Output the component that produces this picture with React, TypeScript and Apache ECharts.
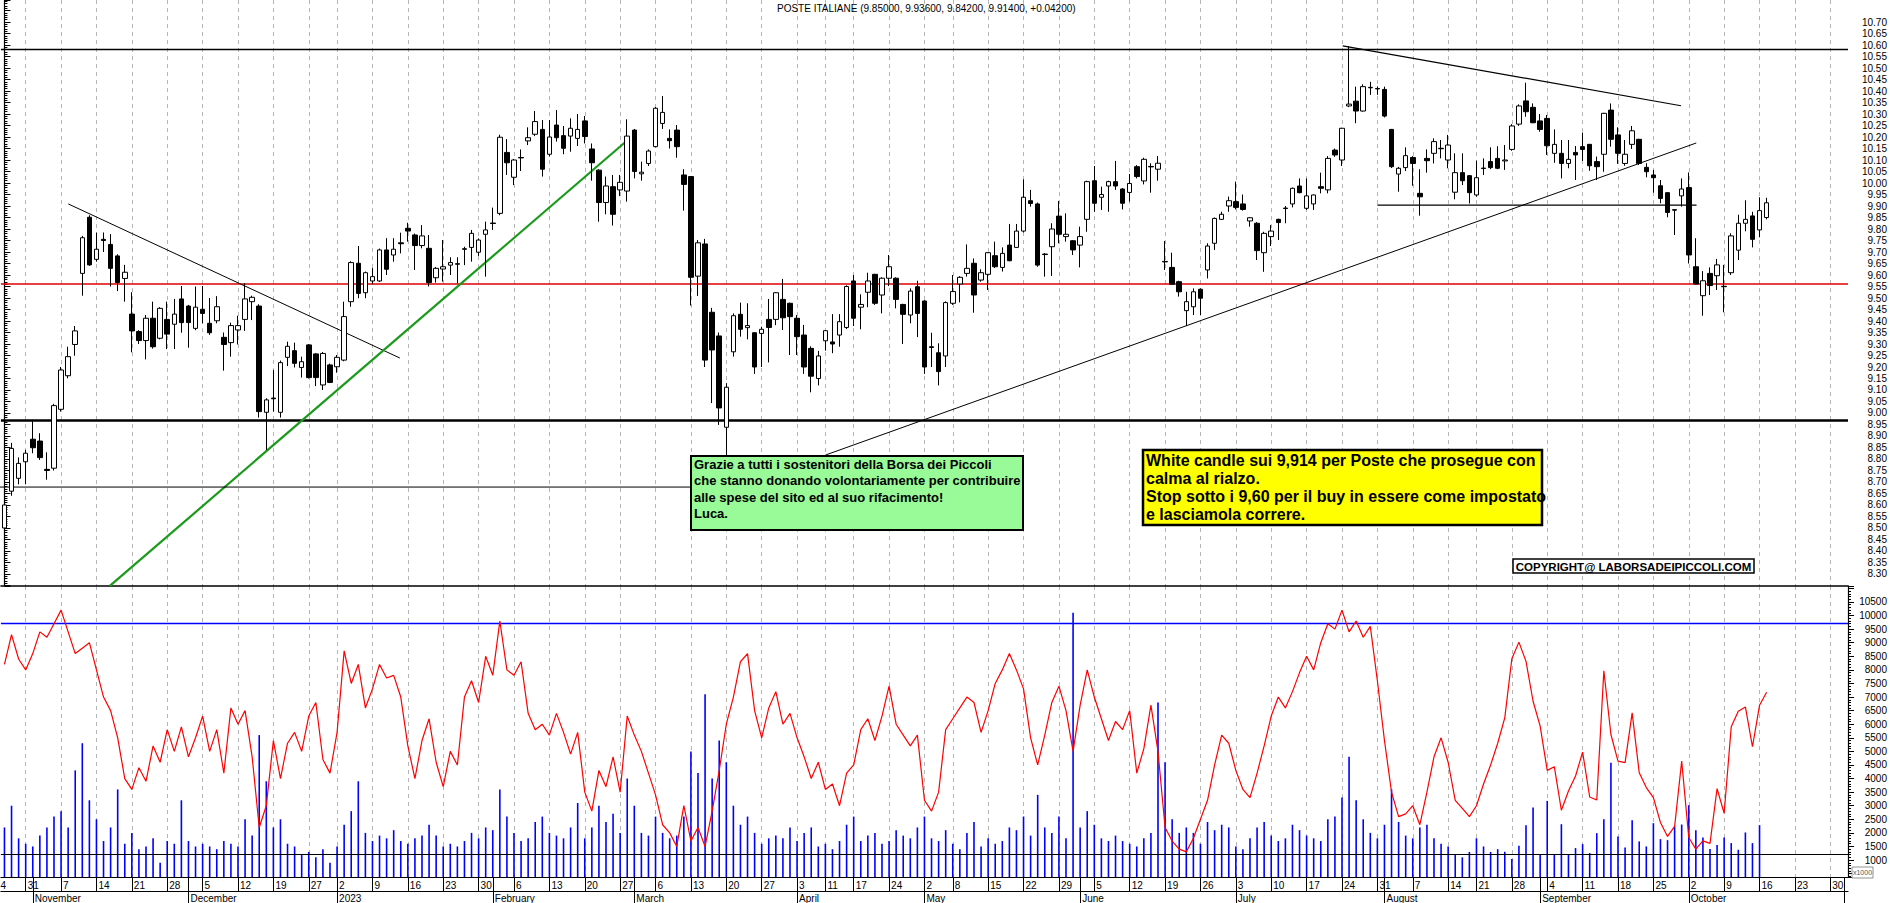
import React, { useEffect, useRef } from 'react';
import * as echarts from 'echarts';

// ---------- categories (trading days) ----------
const HOLIDAYS = ['2022-12-26', '2023-04-07', '2023-04-10', '2023-05-01', '2023-08-15'];
const MONTH_NAMES = ['2023', 'February', 'March', 'April', 'May', 'June', 'July', 'August', 'September', 'October', 'November', 'December'];

function buildTradingDays(): string[] {
  const out: string[] = [];
  const d = new Date(Date.UTC(2022, 9, 26));
  const end = Date.UTC(2023, 10, 1);
  while (d.getTime() <= end) {
    const wd = d.getUTCDay();
    const s = d.toISOString().slice(0, 10);
    if (wd !== 0 && wd !== 6 && HOLIDAYS.indexOf(s) < 0) out.push(s);
    d.setUTCDate(d.getUTCDate() + 1);
  }
  return out;
}
const dates = buildTradingDays();

// ---------- OHLC (from 2022-10-26) ----------
const opens = [
  8.50, 8.66, 8.716, 8.788, 8.886, 8.878, 8.755, 8.76, 9.016, 9.162,
  9.298, 9.607, 9.851, 9.668, 9.755, 9.733, 9.683, 9.585, 9.43, 9.354,
  9.315, 9.412, 9.325, 9.407, 9.386, 9.496, 9.465, 9.368, 9.451, 9.39,
  9.401, 9.329, 9.306, 9.361, 9.407, 9.484, 9.465, 9.003, 9.065, 9.003,
  9.242, 9.271, 9.198, 9.296, 9.257, 9.122, 9.209, 9.201, 9.23, 9.484,
  9.651, 9.523, 9.574, 9.574, 9.709, 9.687, 9.74, 9.803, 9.774, 9.728,
  9.716, 9.588, 9.626, 9.643, 9.649, 9.714, 9.72, 9.699, 9.777, 9.826,
  9.868, 10.133, 10.025, 10.111, 10.183, 10.212, 10.233, 10.125, 10.252, 10.206,
  10.204, 10.194, 10.27, 10.148, 10.056, 9.915, 9.984, 9.97, 9.965, 10.23,
  10.04, 10.085, 10.158, 10.259, 10.194, 10.23, 10.035, 10.028, 9.595, 9.735,
  9.438, 9.335, 8.938, 9.266, 9.429, 9.371, 9.349, 9.346, 9.407, 9.407,
  9.494, 9.477, 9.412, 9.339, 9.281, 9.15, 9.314, 9.309, 9.339, 9.372,
  9.574, 9.46, 9.525, 9.603, 9.513, 9.586, 9.586, 9.472, 9.426, 9.549,
  9.487, 9.288, 9.262, 9.248, 9.477, 9.561, 9.607, 9.651, 9.578, 9.603,
  9.684, 9.633, 9.73, 9.72, 9.791, 9.923, 9.909, 9.691, 9.723, 9.856,
  9.767, 9.749, 9.73, 9.842, 10.01, 9.938, 9.987, 10.006, 9.974, 9.959,
  10.071, 10.009, 10.072, 10.06, 9.659, 9.633, 9.571, 9.445, 9.462, 9.538,
  9.622, 9.738, 9.842, 9.90, 9.919, 9.909, 9.835, 9.825, 9.697, 9.767,
  9.842, 9.891, 9.909, 9.987, 9.89, 9.909, 9.984, 9.97, 10.143, 10.10,
  10.335, 10.356, 10.313, 10.416, 10.411, 10.407, 10.233, 10.039, 10.067, 10.111,
  9.955, 10.107, 10.129, 10.151, 10.10, 9.96, 10.045, 10.032, 9.948, 10.065,
  10.093, 10.107, 10.096, 10.146, 10.256, 10.357, 10.329, 10.27, 10.281, 10.129,
  10.129, 10.085, 10.133, 10.158, 10.168, 10.093, 10.125, 10.317, 10.209, 10.085,
  10.168, 10.19, 10.068, 10.035, 9.988, 9.958, 9.884, 9.944, 9.98, 9.636,
  9.51, 9.607, 9.597, 9.551, 9.61, 9.708, 9.825, 9.857, 9.796, 9.85,
];
const closes = [
  8.60, 8.846, 8.781, 8.825, 8.849, 8.806, 8.75, 9.032, 9.187, 9.245,
  9.357, 9.762, 9.644, 9.712, 9.75, 9.629, 9.567, 9.612, 9.357, 9.315,
  9.412, 9.288, 9.455, 9.343, 9.43, 9.393, 9.393, 9.46, 9.433, 9.349,
  9.462, 9.298, 9.38, 9.38, 9.496, 9.503, 9.006, 9.057, 9.062, 9.219,
  9.29, 9.216, 9.223, 9.154, 9.154, 9.259, 9.133, 9.242, 9.419, 9.654,
  9.52, 9.61, 9.593, 9.709, 9.625, 9.712, 9.736, 9.791, 9.728, 9.77,
  9.567, 9.629, 9.636, 9.654, 9.647, 9.712, 9.781, 9.752, 9.796, 9.824,
  10.199, 10.088, 10.10, 10.109, 10.197, 10.267, 10.06, 10.20, 10.197, 10.151,
  10.238, 10.233, 10.202, 10.088, 9.915, 9.987, 9.864, 10.003, 10.204, 10.05,
  10.047, 10.139, 10.325, 10.307, 10.184, 10.158, 9.994, 9.59, 9.74, 9.23,
  9.274, 9.022, 9.112, 9.423, 9.364, 9.38, 9.20, 9.364, 9.372, 9.523,
  9.414, 9.419, 9.332, 9.20, 9.16, 9.248, 9.358, 9.30, 9.397, 9.55,
  9.412, 9.472, 9.574, 9.477, 9.586, 9.636, 9.494, 9.429, 9.53, 9.433,
  9.20, 9.285, 9.18, 9.48, 9.528, 9.59, 9.629, 9.513, 9.61, 9.697,
  9.636, 9.694, 9.662, 9.791, 9.938, 9.911, 9.643, 9.689, 9.80, 9.777,
  9.777, 9.709, 9.767, 10.006, 9.912, 9.95, 10.006, 9.987, 9.912, 9.998,
  10.028, 10.103, 10.07, 10.086, 9.657, 9.56, 9.527, 9.484, 9.527, 9.499,
  9.726, 9.846, 9.864, 9.923, 9.894, 9.885, 9.849, 9.706, 9.781, 9.791,
  9.828, 9.889, 9.977, 9.958, 9.944, 9.948, 9.977, 10.107, 10.122, 10.238,
  10.343, 10.313, 10.419, 10.414, 10.409, 10.291, 10.071, 10.064, 10.119, 10.085,
  9.94, 10.097, 10.18, 10.149, 10.165, 10.045, 10.01, 9.958, 10.023, 10.063,
  10.067, 10.064, 10.10, 10.248, 10.335, 10.31, 10.262, 10.233, 10.162, 10.168,
  10.085, 10.103, 10.122, 10.146, 10.075, 10.071, 10.303, 10.19, 10.129, 10.125,
  10.227, 10.085, 10.049, 10.023, 9.933, 9.872, 9.882, 9.974, 9.687, 9.561,
  9.575, 9.554, 9.644, 9.549, 9.77, 9.825, 9.842, 9.755, 9.88, 9.914,
];
const lows = [
  8.46, 8.64, 8.69, 8.69, 8.825, 8.796, 8.71, 8.75, 9.006, 9.151,
  9.249, 9.51, 9.64, 9.658, 9.70, 9.55, 9.53, 9.484, 9.264, 9.30,
  9.233, 9.28, 9.32, 9.278, 9.278, 9.349, 9.284, 9.36, 9.39, 9.34,
  9.39, 9.184, 9.245, 9.298, 9.357, 9.404, 8.98, 8.839, 9.006, 8.98,
  9.204, 9.198, 9.154, 9.15, 9.117, 9.10, 9.13, 9.175, 9.225, 9.462,
  9.499, 9.499, 9.56, 9.57, 9.60, 9.658, 9.694, 9.745, 9.622, 9.716,
  9.55, 9.567, 9.571, 9.60, 9.564, 9.643, 9.658, 9.683, 9.593, 9.796,
  9.86, 10.035, 9.991, 10.052, 10.165, 10.204, 10.028, 10.115, 10.18, 10.125,
  10.136, 10.161, 10.172, 10.01, 9.832, 9.864, 9.815, 9.943, 9.919, 10.02,
  10.01, 10.074, 10.155, 10.235, 10.15, 10.11, 9.88, 9.467, 9.509, 9.20,
  9.043, 8.948, 8.813, 9.245, 9.332, 9.32, 9.17, 9.20, 9.22, 9.382,
  9.361, 9.252, 9.252, 9.17, 9.09, 9.12, 9.271, 9.26, 9.288, 9.365,
  9.378, 9.364, 9.46, 9.47, 9.433, 9.552, 9.455, 9.30, 9.39, 9.33,
  9.17, 9.20, 9.12, 9.20, 9.47, 9.481, 9.593, 9.436, 9.571, 9.535,
  9.63, 9.615, 9.66, 9.719, 9.785, 9.897, 9.636, 9.593, 9.596, 9.738,
  9.745, 9.687, 9.633, 9.788, 9.875, 9.883, 9.875, 9.97, 9.885, 9.919,
  10.02, 9.994, 9.958, 10.01, 9.622, 9.557, 9.506, 9.378, 9.426, 9.426,
  9.585, 9.709, 9.84, 9.875, 9.885, 9.88, 9.81, 9.665, 9.614, 9.726,
  9.752, 9.825, 9.894, 9.955, 9.883, 9.883, 9.955, 9.955, 10.114, 10.074,
  10.33, 10.26, 10.31, 10.383, 10.383, 10.285, 10.065, 9.962, 10.052, 9.988,
  9.858, 10.045, 10.085, 10.107, 10.064, 9.929, 9.991, 9.911, 9.94, 10.035,
  10.06, 10.06, 10.057, 10.14, 10.248, 10.288, 10.26, 10.223, 10.122, 10.088,
  10.02, 10.064, 10.013, 10.096, 10.053, 10.013, 10.049, 10.158, 10.083, 10.075,
  10.148, 10.078, 10.025, 9.958, 9.912, 9.851, 9.774, 9.897, 9.65, 9.56,
  9.423, 9.513, 9.535, 9.438, 9.60, 9.665, 9.79, 9.72, 9.764, 9.842,
];
const highs = [
  8.62, 8.87, 8.807, 8.84, 8.97, 8.912, 8.829, 9.04, 9.20, 9.288,
  9.378, 9.77, 9.86, 9.784, 9.785, 9.778, 9.69, 9.644, 9.525, 9.36,
  9.426, 9.484, 9.46, 9.484, 9.496, 9.552, 9.47, 9.55, 9.552, 9.50,
  9.508, 9.35, 9.393, 9.423, 9.564, 9.51, 9.473, 9.064, 9.187, 9.228,
  9.31, 9.306, 9.245, 9.30, 9.26, 9.265, 9.215, 9.252, 9.484, 9.66,
  9.726, 9.615, 9.63, 9.715, 9.76, 9.76, 9.784, 9.827, 9.78, 9.817,
  9.774, 9.635, 9.752, 9.677, 9.677, 9.723, 9.796, 9.759, 9.832, 9.893,
  10.21, 10.191, 10.105, 10.146, 10.242, 10.313, 10.274, 10.274, 10.317, 10.248,
  10.281, 10.30, 10.291, 10.172, 10.06, 10.028, 10.035, 10.035, 10.277, 10.235,
  10.093, 10.146, 10.33, 10.378, 10.233, 10.252, 10.06, 10.03, 9.752, 9.757,
  9.457, 9.35, 9.13, 9.433, 9.48, 9.477, 9.35, 9.375, 9.496, 9.525,
  9.583, 9.48, 9.426, 9.383, 9.29, 9.27, 9.36, 9.43, 9.43, 9.555,
  9.60, 9.516, 9.61, 9.605, 9.59, 9.687, 9.59, 9.475, 9.542, 9.575,
  9.49, 9.349, 9.303, 9.485, 9.60, 9.595, 9.733, 9.672, 9.625, 9.70,
  9.745, 9.72, 9.822, 9.822, 10.016, 9.97, 9.915, 9.695, 9.825, 9.922,
  9.868, 9.752, 9.81, 10.01, 10.074, 9.984, 10.01, 10.096, 9.978, 10.039,
  10.078, 10.11, 10.086, 10.117, 9.748, 9.697, 9.575, 9.527, 9.542, 9.542,
  9.738, 9.85, 9.875, 9.941, 10.006, 9.95, 9.852, 9.83, 9.788, 9.817,
  9.845, 9.90, 9.98, 10.02, 10.02, 9.95, 10.045, 10.117, 10.15, 10.24,
  10.595, 10.419, 10.429, 10.44, 10.42, 10.419, 10.235, 10.07, 10.155, 10.117,
  10.06, 10.146, 10.194, 10.187, 10.209, 10.129, 10.129, 10.035, 10.097, 10.107,
  10.155, 10.16, 10.165, 10.256, 10.342, 10.436, 10.346, 10.30, 10.296, 10.233,
  10.187, 10.187, 10.161, 10.219, 10.17, 10.115, 10.305, 10.346, 10.242, 10.187,
  10.248, 10.192, 10.086, 10.057, 10.013, 9.96, 9.886, 10.02, 10.046, 9.76,
  9.617, 9.633, 9.67, 9.644, 9.781, 9.862, 9.925, 9.875, 9.938, 9.936,
];

// ---------- volume (x1000) and red oscillator line ----------
const volumes = [
  2200, 3000, 1800, 1600, 1500, 1900, 2200, 2600, 2800, 2200,
  4300, 5300, 3200, 2500, 1700, 2200, 3600, 1600, 2000, 1400,
  1500, 1800, 900, 1700, 1600, 3200, 1700, 1500, 1600, 1500,
  1400, 1700, 1600, 1500, 2500, 1900, 5600, 3900, 2200, 2500,
  1600, 1500, 1200, 1300, 1100, 1400, 900, 1500, 2300, 2800,
  3900, 2000, 1700, 1900, 1800, 2100, 1700, 1600, 1800, 1900,
  2300, 1900, 1500, 1600, 1500, 1700, 2000, 1800, 2200, 2100,
  3600, 2600, 2000, 1700, 1800, 2400, 2600, 2000, 1900, 1800,
  2200, 3100, 1800, 2200, 3000, 2400, 2700, 2000, 4000, 3000,
  2000, 1900, 2600, 2000, 1800, 1900, 2600, 5000, 4200, 7100,
  4000, 5400, 4600, 3000, 2300, 2600, 2000, 1600, 1800, 1900,
  1800, 2200, 1700, 2000, 2200, 1500, 1600, 1400, 1700, 2300,
  2600, 1700, 1900, 2000, 1600, 1700, 2100, 1900, 1800, 2200,
  2600, 1800, 1700, 2100, 1600, 1400, 2000, 2400, 1500, 1800,
  1600, 1700, 2200, 2100, 2600, 1900, 3400, 2200, 2000, 2600,
  1800, 10100, 2200, 2800, 2300, 1800, 1700, 1900, 1700, 1600,
  1500, 1800, 2000, 6800, 4600, 2500, 2000, 2200, 2000, 1600,
  2400, 2100, 2300, 2200, 1500, 1400, 1800, 2200, 2400, 1900,
  1700, 1800, 2300, 2100, 1900, 1800, 1700, 2500, 2600, 3300,
  4800, 3200, 2500, 2000, 1800, 2300, 3600, 2400, 1900, 1800,
  2200, 2300, 1800, 1600, 1500, 1200, 1100, 1300, 1800, 1500,
  1300, 1400, 1305, 1037, 1526, 2284, 2933, 1220, 3176, 1220,
  2320, 1220, 1440, 1587, 1257, 1990, 2504, 4584, 1869, 1465,
  2467, 1685, 1501, 2357, 1770, 1733, 2223, 2308, 3018, 2100,
  1832, 1403, 1550, 1832, 1624, 1380, 2016, 1624, 2284, null,
];
const oscillator = [
  8200, 9300, 8400, 8000, 8600, 9400, 9200, 9700, 10200, 9400,
  8600, 8800, 9000, 8000, 7000, 6500, 5500, 4000, 3600, 4400,
  3900, 5200, 4600, 5800, 5000, 5900, 4800, 5500, 6300, 5000,
  5800, 4200, 6600, 6000, 6500, 4800, 2200, 3000, 5400, 4000,
  5300, 5700, 5000, 6300, 6800, 4700, 4200, 5700, 8700, 7500,
  8200, 6600, 7300, 8200, 7700, 7800, 7000, 5200, 4000, 5400,
  6200, 4600, 3700, 5000, 4500, 7000, 7600, 6800, 8500, 7800,
  9800, 8000, 7800, 8300, 6400, 5800, 6000, 5600, 6400, 5700,
  4900, 5700, 3500, 2800, 4300, 3700, 4800, 3500, 6300, 5600,
  5000, 4200, 3400, 2300, 2000, 1500, 3000, 1700, 2200, 1500,
  2800, 4300, 6000, 7000, 8300, 8600, 6500, 5500, 6600, 7200,
  6000, 6400, 5500, 4800, 4000, 4600, 3600, 3800, 3000, 4200,
  4500, 5800, 6200, 5400, 6300, 7400, 6000, 5600, 5200, 5600,
  3200, 2800, 3500, 5800, 6200, 6600, 7000, 6800, 5700, 6500,
  7500, 8000, 8600, 8000, 7300, 5500, 4500, 5600, 6800, 7400,
  6500, 5000, 6700, 8000, 7000, 6200, 5400, 6100, 5800, 6500,
  4200, 5100, 6700, 5000, 2200, 1700, 1400, 1300, 1800, 2500,
  3200, 4500, 5600, 5300, 4300, 3600, 3300, 4200, 5200, 6300,
  7000, 6600, 7200, 7900, 8500, 8000, 9000, 9700, 9500, 10200,
  9400, 9800, 9200, 9600, 7600, 5400, 3500, 2600, 2700, 3000,
  2300, 3500, 4800, 5500, 4600, 3200, 2900, 2600, 3000, 3800,
  4500, 5300, 6235, 8410, 9022, 8312, 6845, 5927, 4302, 4437,
  2834, 3542, 4093, 4973, 3322, 3212, 7970, 5622, 4643, 4584,
  6418, 4213, 3667, 3300, 2383, 1870, 2236, 4643, 1832, 1403,
  1708, 1612, 3630, 2724, 5904, 6477, 6638, 5171, 6697, 7174,
];

// horizontal levels
const PRICE_LEVELS = [10.584, 9.564, 8.974];
const VOLUME_LEVELS = [9720, 1220];

// trend lines in data space: [dayIndex, price]
const TREND_LINES = [
  { a: [9.02, 9.909], b: [55.87, 9.239] },
  { a: [14.89, 8.248], b: [88.07, 10.187] },
  { a: [116, 8.817], b: [239.06, 10.174] },
  { a: [189.1, 10.596], b: [236.9, 10.336] },
  { a: [194.0, 9.904], b: [239.1, 9.904] },
  { a: [-0.63, 8.678], b: [98, 8.678] },
];
const TREND_STYLES = [
  { color: '#000', width: 1 },
  { color: '#1a9a1a', width: 2.2 },
  { color: '#000', width: 1 },
  { color: '#000', width: 1.2 },
  { color: '#000', width: 1.3 },
  { color: '#000', width: 1 },
];

const TITLE = 'POSTE ITALIANE (9.85000, 9.93600, 9.84200, 9.91400, +0.04200)';
const GREEN_NOTE = [
  'Grazie a tutti i sostenitori della Borsa dei Piccoli',
  'che stanno donando volontariamente per contribuire',
  'alle spese del sito ed al suo rifacimento!',
  'Luca.',
];
const YELLOW_NOTE = [
  'White candle sui 9,914 per Poste che prosegue con',
  'calma al rialzo.',
  'Stop sotto i 9,60 per il buy in essere come impostato',
  'e lasciamola correre.',
];
const COPYRIGHT = 'COPYRIGHT@ LABORSADEIPICCOLI.COM';
const FIRST_WEEK_LABEL = '4';

// ---------- helpers ----------
const WEEK0 = Date.UTC(2022, 9, 24);
const weekIdx = (s: string) => Math.floor((Date.parse(s + 'T00:00:00Z') - WEEK0) / (7 * 86400000));
const isWeekStart = dates.map((s, i) => i > 0 && weekIdx(s) !== weekIdx(dates[i - 1]));
const isMonthStart = dates.map((s, i) => i > 0 && s.slice(5, 7) !== dates[i - 1].slice(5, 7));

const FONT = '"Liberation Sans", Arial, sans-serif';
const BAND = 7.08;
const LEFT = 0.92;
const W = dates.length * BAND;

function buildOption() {
  const candles = opens.map((o, i) => [o, closes[i], lows[i], highs[i]]);
  const gridLine = {
    show: true,
    alignWithLabel: true,
    interval: (i: number) => isWeekStart[i],
    lineStyle: { color: '#b5b5b5', type: [4, 4], width: 1 },
  };
  const trendSeries = TREND_LINES.map((t, i) => ({
    type: 'line',
    xAxisIndex: 2,
    yAxisIndex: 0,
    data: [t.a, t.b],
    symbol: 'none',
    silent: true,
    z: 5,
    lineStyle: { color: TREND_STYLES[i].color, width: TREND_STYLES[i].width },
  }));

  const textEl = (text: string, x: number, y: number, font: string, align = 'left') => ({
    type: 'text',
    x,
    y,
    z: 101,
    silent: true,
    style: { text, font, fill: '#000', align, verticalAlign: 'middle' },
  });

  return {
    animation: false,
    backgroundColor: '#ffffff',
    grid: [
      { left: LEFT, top: 0, width: W, height: 586 },
      { left: LEFT, top: 586, width: W, height: 292 },
    ],
    xAxis: [
      {
        type: 'category', gridIndex: 0, data: dates,
        axisLine: { show: true, lineStyle: { color: '#000', width: 1.5 } },
        axisTick: { show: false }, axisLabel: { show: false },
        splitLine: gridLine,
      },
      {
        type: 'category', gridIndex: 1, data: dates,
        axisLine: { show: true, lineStyle: { color: '#000', width: 1.2 } },
        axisTick: {
          show: true, alignWithLabel: true, length: 14,
          interval: (i: number) => isWeekStart[i] || isMonthStart[i],
          lineStyle: { color: '#000', width: 1 },
        },
        axisLabel: {
          interval: (i: number) => isWeekStart[i],
          formatter: (v: string) => String(parseInt(v.slice(8), 10)),
          align: 'left', padding: [0, 0, 0, 2], margin: 3,
          fontSize: 10, fontFamily: FONT, color: '#000',
        },
        splitLine: gridLine,
      },
      { type: 'value', gridIndex: 0, min: -0.5, max: dates.length - 0.5, show: false, position: 'top' },
      {
        type: 'category', gridIndex: 1, data: dates, position: 'bottom', offset: 14,
        axisLine: { show: true, lineStyle: { color: '#000', width: 1.2 } },
        axisTick: {
          show: true, alignWithLabel: true, length: 12,
          interval: (i: number) => isMonthStart[i],
          lineStyle: { color: '#000', width: 1 },
        },
        axisLabel: {
          interval: (i: number) => isMonthStart[i],
          formatter: (v: string, i: number) => (i >= dates.length - 1 ? '' : MONTH_NAMES[(parseInt(v.slice(5, 7), 10) + 11) % 12]),
          align: 'left', padding: [0, 0, 0, 2], margin: 2,
          fontSize: 10, fontFamily: FONT, color: '#000',
        },
        splitLine: { show: false },
      },
    ],
    yAxis: [
      {
        type: 'value', gridIndex: 0, position: 'right',
        min: 8.2478, max: 10.7957, splitNumber: 50, minInterval: 0.05, maxInterval: 0.05,
        axisLine: { show: true, lineStyle: { color: '#000', width: 1.2 } },
        axisTick: { show: true, length: 6, lineStyle: { color: '#000' } },
        minorTick: { show: true, splitNumber: 5, length: 3, lineStyle: { color: '#000' } },
        splitLine: { show: false },
        axisLabel: {
          align: 'right', margin: 39, fontSize: 10, fontFamily: FONT, color: '#000',
          formatter: (v: number) => {
            const r = Math.round(v * 20) / 20;
            return Math.abs(v - r) < 1e-6 && r >= 8.299 && r <= 10.701 ? r.toFixed(2) : '';
          },
        },
      },
      {
        type: 'value', gridIndex: 1, position: 'right',
        min: 376, max: 11088, splitNumber: 21, minInterval: 500, maxInterval: 500,
        axisLine: { show: true, lineStyle: { color: '#000', width: 1.2 } },
        axisTick: { show: true, length: 6, lineStyle: { color: '#000' } },
        minorTick: { show: true, splitNumber: 5, length: 3, lineStyle: { color: '#000' } },
        splitLine: { show: false },
        axisLabel: {
          align: 'right', margin: 39, fontSize: 10, fontFamily: FONT, color: '#000',
          formatter: (v: number) => (v % 500 === 0 && v >= 1000 && v <= 10500 ? String(v) : ''),
        },
      },
    ],
    series: [
      {
        type: 'candlestick', xAxisIndex: 0, yAxisIndex: 0, data: candles,
        barWidth: 5, z: 10,
        itemStyle: {
          color: '#ffffff', color0: '#000000', borderColor: '#000000', borderColor0: '#000000',
          borderColorDoji: '#000000', borderWidth: 1,
        },
        markLine: {
          symbol: 'none', silent: true, label: { show: false },
          data: [
            { yAxis: PRICE_LEVELS[0], lineStyle: { color: '#000', width: 1.3, type: 'solid' } },
            { yAxis: PRICE_LEVELS[1], lineStyle: { color: '#e00000', width: 1.5, type: 'solid' } },
            { yAxis: PRICE_LEVELS[2], lineStyle: { color: '#000', width: 2.6, type: 'solid' } },
          ],
        },
      },
      ...trendSeries,
      {
        type: 'bar', xAxisIndex: 1, yAxisIndex: 1, data: volumes, barWidth: 1.6,
        itemStyle: { color: '#0000ff' }, silent: true,
        markLine: {
          symbol: 'none', silent: true, label: { show: false },
          data: [
            { yAxis: VOLUME_LEVELS[0], lineStyle: { color: '#0000ff', width: 1.3, type: 'solid' } },
            { yAxis: VOLUME_LEVELS[1], lineStyle: { color: '#000', width: 1.2, type: 'solid' } },
          ],
        },
      },
      {
        type: 'line', xAxisIndex: 1, yAxisIndex: 1, data: oscillator, symbol: 'none', silent: true,
        lineStyle: { color: '#ff0000', width: 1.2 }, z: 6,
      },
    ],
    graphic: {
      elements: [
        textEl(TITLE, 777, 8, `10px ${FONT}`),
        textEl(FIRST_WEEK_LABEL, 0.5, 885.5, `10px ${FONT}`),
        {
          type: 'rect', z: 100, silent: true,
          shape: { x: 691, y: 456, width: 332, height: 74 },
          style: { fill: '#98fb98', stroke: '#000', lineWidth: 2 },
        },
        ...GREEN_NOTE.map((t, i) => textEl(t, 694, 464 + i * 16.5, `bold 13px ${FONT}`)),
        {
          type: 'rect', z: 100, silent: true,
          shape: { x: 1143, y: 450, width: 399, height: 75 },
          style: { fill: '#ffff00', stroke: '#000', lineWidth: 2.5 },
        },
        ...YELLOW_NOTE.map((t, i) => textEl(t, 1146, 460 + i * 18, `bold 16px ${FONT}`)),
        {
          type: 'rect', z: 100, silent: true,
          shape: { x: 1513, y: 559, width: 241, height: 14 },
          style: { fill: '#fff', stroke: '#000', lineWidth: 1.5 },
        },
        textEl(COPYRIGHT, 1633.5, 566.5, `bold 11.5px ${FONT}`, 'center'),
        {
          type: 'rect', z: 100, silent: true,
          shape: { x: 1852, y: 867, width: 21, height: 11 },
          style: { fill: '#fff', stroke: '#777', lineWidth: 0.8 },
        },
        {
          type: 'text', x: 1862.5, y: 872.5, z: 101, silent: true,
          style: { text: 'x1000', font: `7px ${FONT}`, fill: '#555', align: 'center', verticalAlign: 'middle' },
        },
      ],
    },
  };
}

export default function App() {
  const ref = useRef<HTMLDivElement>(null);
  useEffect(() => {
    if (!ref.current) return;
    const chart = echarts.init(ref.current, undefined, { renderer: 'svg' });
    chart.setOption(buildOption() as any);
    return () => chart.dispose();
  }, []);
  return (
    <div
      ref={ref}
      style={{ position: 'absolute', left: 0, top: 0, width: 1890, height: 903, background: '#fff' }}
    />
  );
}
